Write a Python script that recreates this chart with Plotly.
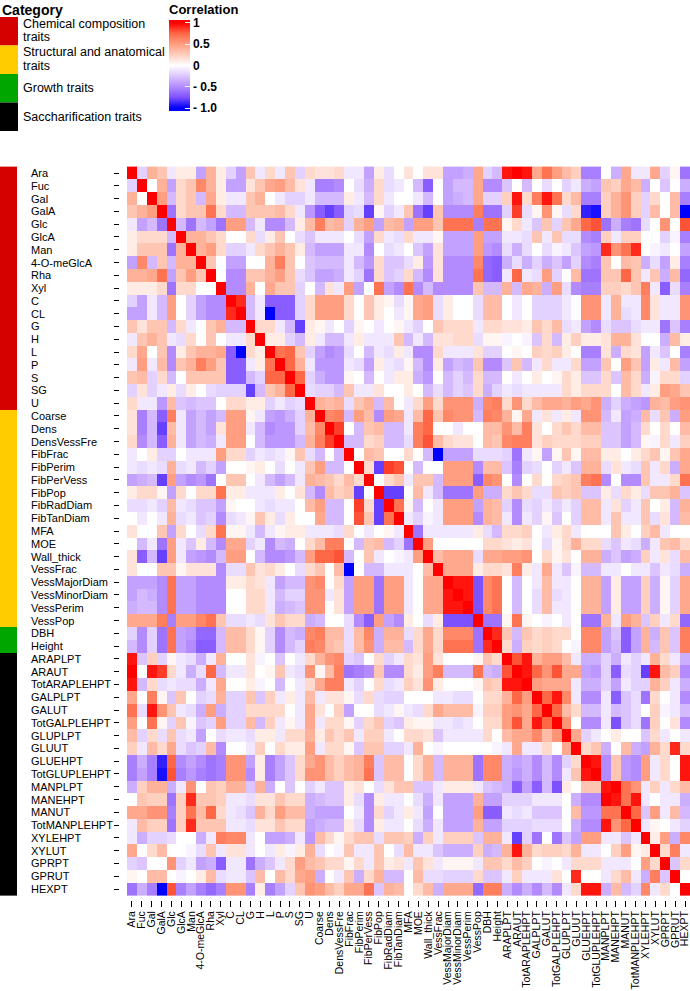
import plotly.graph_objects as go

W, H = 690, 991

# traits, grouped by category (rows top->bottom, columns left->right)
chem_traits = ["Ara", "Fuc", "Gal", "GalA", "Glc", "GlcA", "Man", "4-O-meGlcA", "Rha", "Xyl",
               "C", "CL", "G", "H", "L", "P", "S", "SG", "U"]
struct_traits = ["Coarse", "Dens", "DensVessFre", "FibFrac", "FibPerim", "FibPerVess", "FibPop",
                 "FibRadDiam", "FibTanDiam", "MFA", "MOE", "Wall_thick", "VessFrac",
                 "VessMajorDiam", "VessMinorDiam", "VessPerim", "VessPop"]
growth_traits = ["DBH", "Height"]
sacch_traits = ["ARAPLPT", "ARAUT", "TotARAPLEHPT", "GALPLPT", "GALUT", "TotGALPLEHPT",
                "GLUPLPT", "GLUUT", "GLUEHPT", "TotGLUPLEHPT", "MANPLPT", "MANEHPT", "MANUT",
                "TotMANPLEHPT", "XYLEHPT", "XYLUT", "GPRPT", "GPRUT", "HEXPT"]

categories = [["Chemical composition", "traits"], ["Structural and anatomical", "traits"],
              ["Growth traits"], ["Saccharification traits"]]
category_colors = ["#D50000", "#FFCC00", "#00A600", "#000000"]

# correlation x 10, lower triangle as drawn (row i holds columns 0..i-1)
lower_chem = [
    [],
    [-2],
    [4, 0],
    [3, 4, 5],
    [-1, -4, -3, -6],
    [1, 2, 2, 2, -3],
    [1, 3, 3, 3, -6, 4],
    [-4, 6, -3, 3, -3, 4, 4],
    [4, 4, 4.5, 7, -4, 3, 5, 3],
    [1, 1, 1, 2, -6, 2, 2, 0, 0],
    [-2, -4, -1, -3, 5, 0, -2, -4, -5, -5],
    [-4, -4, -1, -3, 5, 0, -2, -4, -5, -5, 9],
    [3, 1.5, 3, 3, -3, 2, -1, 0, 3, 4, -3, -3],
    [-1, 3, 4, 3, -1, -1.5, 2, 0, 3, 0, -1, -1, 2],
    [2, 4.5, 0, 3, -5, 1, 3, 4, 4, 4.5, -7, -10, 2, 1],
    [-1, 5, -1, 3.5, -5, 3, 4, 6.5, 5, 3, -7, -7, -1, 1, 7],
    [3, 3.5, -2, 2, -3, 0, 3, 3, 3, 3, -7, -7, -3, -2, 7.5, 7.5],
    [-2, 1.5, -2, -1, 1, -1.5, 1, 0, -1.5, -2, -2, -2, -8, -3, 3, 4, 7.5],
    [2, -1, -1, -4.5, 3.5, -2.5, -3, -2.5, -2.5, 0, 2, 2, 1, 1, -2, -1, -2, -1.5],
]
lower_struct = [
    [1.5, -5.5, -3, -7, 6.5, -1, -4, -3, -4, -3, 5, 5, 0.5, -1, -4, -4.5, -3.5, -2, 4],
    [1.5, -5.5, -3, -8, 3.5, -1, -4, -3, -4, 1.5, 5, 5, -1, -3, -5, -4.5, -4.5, -2, 3.5,
     6],
    [2, -5, -3, -7, 4, -1, -4, -3, -3.5, -1, 5, 5, 0, -3, -4.5, -4.5, -4.5, -3, 4,
     6.5, 8.5],
    [-1, 0, 1, -2, -2, 0, -1, -1, -1, 5, 2, 2, -2, -1, -1.5, -1, 0.5, 3, -1.5,
     -3, 0, -3],
    [-1, -1.5, -1, -1.5, 4, -1.5, -1, -3, -2, -4, 0, 0, 0.5, 1, 0, -1.5, 0, -1, 3,
     5, -3, -3, 0],
    [-4, -3.5, -3, -8, 5, -4, -5, -4.5, -6, 0, 3, 3, 0, -1, -3, -4, -3, -1, 4,
     3.5, 3, 2, 3.5, 2],
    [1, 2, 2, 0.5, -4, 2, 0, 2, 2, 7, 1, 1, -1, -1, -1, 1, 0, 1.5, -3,
     -5, 3.5, 2.5, 3, -8, 0],
    [-1.5, -1.5, -1, -2, 3.5, -1, -1.5, -2.5, -2.5, -4, 0.5, 0, 0, -1, -1.5, -1, -1, 0, 3.5,
     5, -3, -3, 0, 8.5, 2, -8],
    [0, -1, 0, -1, 4, -1.5, -1, -2.5, -2, -5, -1.5, -1, 0.5, 3, 1, -1.5, 1, 0, 0,
     4.5, -3, -3, 0, 8, 3, -8, 7],
    [1.5, 0, 0, 3, -4, 2, 0, -1.5, 2, 7, 0.5, 0.5, -1, -3, -1, 0.5, 1, 1, -1,
     -1, -1, -1.5, 2, 0, -1, 0, 0.5, -1],
    [0, -3, -1, -6, 5, -1, -2.5, 1, -3, -5, 4.5, 4.5, -2, -1, -5, -3, -3.5, 0, 2,
     3.5, 6.5, 6.5, 0, -3, 3, 3.5, -3, -2, -6],
    [1.5, -7, -3, -8, 5, -1, -4, -4.5, -5, -3, 5, 5, 0, -3, -5, -5, -4.5, -3, 5,
     7.5, 7.5, 8, -3, 0, 3, -1, 0, -0.5, -1, 5],
    [1.5, 0, 0, 3, 3, 0.5, 1.5, 1.5, 1.5, -5, -1.5, -1.5, 3, 1.5, 2, 1, 0, -1.5, 2,
     3, 0, 3.5, -10, 0, -3, -3, -1, -1, -1, 0, 3.5],
    [-4, -4, -4, -5, 7, -4, -4, -5, -5, -5, 1, 1, 2, 1.5, -1, -4, -3, -3, 5.5,
     6, 0, 2, -4, 5, 5, -6, 5, 5, -1, 0, 4.5, 4.5],
    [-4, -3, -3.5, -5, 7, -4, -4, -5, -5, -5, 0, 0, 2, 2, -1, -3, -2, -2, 5.5,
     5.5, -1, 1.5, -4, 5, 5, -6, 5, 5, -1, 0, 4.5, 4.5, 9.5],
    [-3.5, -3, -3, -5, 7, -4, -4, -5, -5, -5, 0, 0, 2, 2, -1, -3.5, -3, -2.5, 5.5,
     5.5, 0, 1.5, -4, 5, 5, -6, 5, 5, -1, 0, 4.5, 4.5, 9.5, 9.5],
    [4.5, 4.5, 4.5, 6.5, -5.5, 5, 5, 6, 7, 3, -1.5, -1.5, -1, -1.5, 1.5, 3, 2, 2, -3.5,
     -3, 0, 0, -1.5, -5, -7, 5, -4, -5, 1, 0, -1.5, 1, -7.5, -7.5, -7.5],
]
lower_growth = [
    [-2, -5, -2, -6, 7, -4, -4.5, -6.5, -6.5, -3, 3.5, 3.5, 2, 0.5, -2, -5, -3, -3.5, 6,
     6.5, 3.5, 3.5, -1.5, 3.5, 6, -3.5, 4, 4, -1.5, 2, 4.5, 2, 6, 6, 6, -6],
    [-3, -5, -2, -6, 7, -4, -5, -7, -7, -3, 3.5, 3.5, 2, 0.5, -2, -5, -3, -2, 6.5,
     6, 3.5, 3, -1.5, 3.5, 5.5, -3.5, 3.5, 3.5, -3, 2, 4.5, 2, 7, 7, 7, -6, 9],
]
lower_sacch = [
    [9.5, -2.5, 2.5, -2, 0.5, -1, -1.5, -3.5, -1, 4, 0, 0, 1.5, -0.5, 0, -2.5, 0, -1, 2,
     4, 5.5, 6, -2, -2.5, 0, 2, -2, -1, 2, 1.5, 5, 1.5, 0, 0, 0, 0.5, 3, 2],
    [10, 0, 9.5, 8.5, 2, -1, -3.5, -1.5, 7.5, -3, -1, -1, 1.5, 0, 0.5, 3, -1, -1.5, 5.5,
     0.5, 3.5, 6.5, -6, -5.5, -5, 3, -5, -5, 2, 1, 5, 6.5, -3, -3, -3, 7, -3, -3.5,
     8],
    [9.5, -3, 2, -1.5, -1, -1.5, -1.5, -3.5, -1, 4.5, 0, 0, 1, -0.5, 0, -3, 0, -1, 2,
     4.5, 6.5, 6.5, -1, -2, 0, 2, -1.5, -1, 2.5, 1.5, 5.5, 1, 0, 0, 0, 0.5, 3, 2.5,
     9.5, 9.5],
    [4.5, 0, 6.5, 0.5, -2.5, 3, 0, -2, -1.5, 4, -2, -2, 3, -2.5, 2.5, -1, 1, -1, 3.5,
     -1, 1.5, 1.5, 0.5, -1.5, 2, -1.5, -2, -2, 0, 0, 0, -1, -1, -1.5, -1.5, 0, 2, 2,
     4, 7.5, 5],
    [7, -1.5, 9.5, 5.5, 3, -1, -1.5, -3.5, 5, -3.5, -2, -2, 2, 2, 2, 2, 0, -1, 4.5,
     1.5, 0, 2.5, -4, 0, 0, -1.5, -1, 0.5, -1, -1.5, 2, 4.5, 3.5, 3.5, 3.5, -0.5, 2.5, 2.5,
     5, 5.5, 4.5, 7.5],
    [5, 0, 7, 0.5, -2, 3, -0.5, -2.5, -2, 5, -2, -2, 3.5, -3, 2.5, -1, 0.5, -1, 4.5,
     -1, 2, 2, 0.5, -2, 2, 3, -2, -2.5, 1, 0.5, 0.5, -1, -1, -1.5, -1, 0, 2, 2,
     5, 8, 4.5, 9.5, 7.5],
    [3.5, -2, 2, -1.5, 3, -1.5, -1, -4, 0, -1.5, -1, -1, -1.5, 1, 1, -1, 2, 2, 4,
     1, 3, 2, 3, -1, 2.5, 2.5, -1, 0, 2, 2, 1.5, -2.5, -1, -1, -1, -1, 2, 0,
     3.5, 4.5, 4.5, 6, 3.5, 5.5],
    [2.5, -1, 3.5, 2, 4.5, -1.5, -2.5, -2, 3.5, -5, 0, 0, -1, 2.5, 0, 2, 1, 1, 5,
     -1, 2, 2, 0.5, -2.5, 3, 3, -2, -2, -1, 4, 0, -0.5, 0, 0, 0, 0, 0, -0.5,
     -1, 4.5, -1, -1, 2, 0, 4.5],
    [-5.5, -3.5, -5.5, -9, 7.5, -5, -4, -5, -6, -5.5, 5.5, 5.5, -4, 1, -5.5, -4, -2.5, 2, 4.5,
     5.5, 3.5, 2.5, 3.5, 4, 6.5, -2.5, 3.5, 3.5, 0, 2, 4, -3, 4, 4, 4, -6, 6, 6,
     -3.5, -4, -3.5, -5, -3, -5, -2, 2],
    [-5.5, -4, -5.5, -9.5, 8, -5.5, -4.5, -5.5, -6, -5.5, 5.5, 5.5, -5, 1, -5.5, -4, -2.5, 2, 5.5,
     5.5, 3.5, 2.5, 3.5, 4, 7, -2.5, 3.5, 3.5, 0, 2, 4, -3, 4, 4, 4, -6, 6, 6,
     -3.5, -4.5, -3.5, -5, -3, -5, -1, 3, 9.5],
    [-3.5, 2.5, 4, 4, -3.5, -1, 5.5, 0, 3, 2.5, 4, 4, -2.5, 4, -3.5, 0, -2.5, 0, -2,
     -1, -2.5, -2.5, 1, 1.5, 0, -1.5, 1.5, 3, 3, -2.5, -2.5, -1, 1, 1, 1, -1, -2.5, -3,
     -3.5, -7, -4, -7, -3, -7.5, 1, 0, 3, 3],
    [0, 3, 2.5, 2.5, -6, 2.5, 9, 3, 3, 2.5, -1, -1, -1.5, 1.5, 1.5, 3, 2, 2, -3.5,
     -3, -2.5, -2.5, 1, -1.5, -5, 1, -1, -1, 0, -1.5, -3.5, -1, -4, -4, -4, 4, -4, -4,
     -2, -2, -2, -1, -1, -1, 0, -3.5, -5, -5, 9.5],
    [4.5, 4.5, 5.5, 5.5, -5.5, 2.5, 7, 3.5, 7.5, 2, -1, -1.5, -2.5, 4, 2, 5, 3.5, 3.5, -3.5,
     -4, -4, -4, 0, -1, -5, 2, -2, -1, 1, -1, -4, 0, -4, -4, -4, 5, -7, -7,
     -1, -1.5, -1, -2.5, -2.5, -2.5, 0, 3.5, -4.5, -4.5, 7, 7],
    [-1, 3.5, 2.5, 2.5, -6, 2.5, 9, 3, 3, 3, -1, -1, -1.5, 1.5, 1.5, 3, 2, 2, -4,
     -3.5, -3, -3, 1, -1.5, -5, 1, -1, -1, 0, -1.5, -3.5, -1, -4, -4, -4, 4, -4, -4,
     -2, -2, -2, -1.5, -1.5, -1.5, 0, -3.5, -5, -5, 9.5, 5.5, 7.5],
    [-1, -3.5, -2, -2, -1.5, 0, 0, -3.5, -1, 6.5, 6, 6, -1, 0, -4, -4, -3.5, -1, -4.5,
     3.5, 2, 0.5, 2, 3, 3, -1.5, 3, 3, 2.5, -3.5, 2.5, -1, 2.5, 2.5, 2.5, -2.5, 4, 4,
     -1, -8, -2, -6, 0, -6, -2.5, -4, 5, 5, -1, -1, -2.5, -1],
    [4.5, 0, 2, 3.5, 0, 0, -0.5, -1.5, 3, -1, 1.5, 1.5, -1, 0, -1, 1, -0.5, 1, 4,
     -1.5, 0, -0.5, 3, -1, -1, 3, 0, -1.5, 3.5, -1, -1, -2.5, -3.5, -3.5, -3.5, 2.5, -3.5, -3,
     4, 9.5, 4, 2, 2.5, 2.5, 2, 4, -1, -1, 0, 2.5, 5, 0.5, 1],
    [-2, -2.5, 0, 0, 5.5, -2, -1, -4, -3.5, -7, -1, -1, -6, -3.5, -2.5, -1, 2, 5, 3.5,
     3, 2, 2, 0.5, 2, -1, 3, 1, 1.5, -1, 3, 1.5, -1, 0.5, 0.5, 0.5, -1, 3, 3,
     2, 3.5, 2.5, 0, -0.5, 0, -1, 2, 2, 2, -1, -1, -1, 0, 5, 2],
    [0.5, 0, 3.5, 3.5, 0, -0.5, 0, 1, 3.5, -1.5, -1, -1, -2.5, 3.5, 0, 3.5, 2, 4.5, 5,
     -3.5, 0, -1, 3, -3.5, 2, 4, -3, -3, 0, 3.5, -1.5, -1.5, -2, -2, -2, 2, -2.5, -2.5,
     -1, 2.5, -1, -1, -1, 1.5, 0, 9, 0, 0, -1, 2, 3.5, -1, -3.5, 6.5, -2.5],
    [-6, -3.5, -5.5, -10, 8, -5.5, -4, -5.5, -6.5, -5.5, 5.5, 5.5, -5.5, 1, -5.5, -4, -2, 3, 5.5,
     5, 3.5, 2.5, 4.5, 4.5, 7, -2.5, 4, 3.5, 0, 2, 3.5, -3.5, 4.5, 4.5, 4.5, -6.5, 6.5, 6.5,
     -3.5, -5, -3.5, -5, -3, -5, -1, 2, 9.5, 9.5, -3.5, 3.5, -3, -2, 6, -1, 2, 0],
]

traits = chem_traits + struct_traits + growth_traits + sacch_traits
trait_cat = ([0] * len(chem_traits) + [1] * len(struct_traits)
             + [2] * len(growth_traits) + [3] * len(sacch_traits))
lower = lower_chem + lower_struct + lower_growth + lower_sacch
n = len(traits)

# in the published figure the MANPLPT / MANEHPT data columns are drawn in swapped order
col_source = list(range(n))
i_pl, i_eh = traits.index("MANPLPT"), traits.index("MANEHPT")
col_source[i_pl], col_source[i_eh] = i_eh, i_pl

R = [[0.0] * n for _ in range(n)]
for i, row in enumerate(lower):
    R[i][i] = 1.0
    for j, v in enumerate(row):
        jj = col_source[j] if i > i_eh else j
        R[i][jj] = v / 10
        R[jj][i] = v / 10
z = [[R[i][col_source[j]] for j in range(n)] for i in range(n)]

# blue - white - red, interpolated in Lab like ComplexHeatmap's colorRamp2
ZL = 1.07  # the legend bar runs slightly past +-1
color_stops = [(-1.0, "rgb(0,0,255)"), (-0.75, "rgb(126,81,255)"), (-0.5, "rgb(179,139,255)"),
               (-0.25, "rgb(220,197,255)"), (0.0, "rgb(255,255,255)"),
               (0.25, "rgb(255,207,191)"), (0.5, "rgb(255,158,129)"),
               (0.75, "rgb(255,104,70)"), (1.0, "rgb(255,0,0)")]
corr_scale = ([[0.0, color_stops[0][1]]]
              + [[(v + ZL) / (2 * ZL), c] for v, c in color_stops]
              + [[1.0, color_stops[-1][1]]])

cat_scale = []
for k, c in enumerate(category_colors):
    cat_scale.append([k / 4, c])
    cat_scale.append([(k + 1) / 4, c])

FONT = "Liberation Sans, Arial, sans-serif"
px = lambda v: v / W
py = lambda v: 1 - v / H

fig = go.Figure()
fig.add_trace(go.Heatmap(
    x=traits, y=traits, z=z,
    zmin=-ZL, zmax=ZL,
    colorscale=corr_scale,
    colorbar=dict(
        x=px(169), xanchor="left", y=py(20), yanchor="top",
        len=91, lenmode="pixels", thickness=21, thicknessmode="pixels",
        xpad=0, ypad=0, outlinewidth=0,
        tickvals=[-1, -0.5, 0, 0.5, 1],
        ticktext=["- 1.0", "- 0.5", "0", "0.5", "1"],
        ticks="inside", ticklen=5, tickcolor="white", tickwidth=1,
        tickfont=dict(family=FONT, size=12, color="black", weight="bold"),
    ),
    hovertemplate="%{y} / %{x}: %{z:.2f}<extra></extra>",
))

# category strip on the left
fig.add_trace(go.Heatmap(
    x=["cat"], y=traits, z=[[c] for c in trait_cat],
    zmin=0, zmax=3, colorscale=cat_scale, showscale=False,
    xaxis="x2", yaxis="y", hoverinfo="skip",
))

annotations = [
    dict(text="<b>Category</b>", x=0, y=1, xref="paper", yref="paper",
         xanchor="left", yanchor="top", showarrow=False,
         font=dict(family=FONT, size=14, color="black")),
    dict(text="<b>Correlation</b>", x=px(167), y=1, xref="paper", yref="paper",
         xanchor="left", yanchor="top", showarrow=False,
         font=dict(family=FONT, size=13, color="black")),
]
shapes = []
block_h = 28.5
for k, (lines, col) in enumerate(zip(categories, category_colors)):
    top = 17 + block_h * k
    shapes.append(dict(type="rect", xref="paper", yref="paper",
                       x0=0, x1=px(18), y0=py(top + block_h), y1=py(top),
                       fillcolor=col, line=dict(width=0)))
    mid = top + block_h / 2
    offsets = [0] if len(lines) == 1 else [-7.5, 6]
    for line, off in zip(lines, offsets):
        annotations.append(dict(text=line, x=px(21), y=py(mid + off),
                                xref="paper", yref="paper", xanchor="left",
                                yanchor="middle", showarrow=False,
                                font=dict(family=FONT, size=12.5, color="black")))

# left-aligned row names
for t in traits:
    annotations.append(dict(text=t, x=px(29), y=t, xref="paper", yref="y",
                            xanchor="left", yanchor="middle", showarrow=False,
                            font=dict(family=FONT, size=11, color="black")))

fig.update_layout(
    width=W, height=H,
    margin=dict(l=0, r=0, t=0, b=0),
    paper_bgcolor="white", plot_bgcolor="white",
    font=dict(family=FONT, color="black"),
    xaxis=dict(domain=[px(127), 1], anchor="free", position=py(900),
               tickmode="array", tickvals=traits, ticktext=traits,
               tickangle=-90, ticks="outside", ticklen=6, tickcolor="black",
               tickfont=dict(family=FONT, size=10.5, color="black"),
               showgrid=False, zeroline=False, showline=False, automargin=False),
    xaxis2=dict(domain=[0, px(17)], anchor="y", showticklabels=False, ticks="",
                showgrid=False, zeroline=False, showline=False),
    yaxis=dict(domain=[py(897), py(165)], autorange="reversed",
               anchor="free", position=px(119),
               tickmode="array", tickvals=traits,
               showticklabels=False, ticks="outside", ticklen=5, tickcolor="black",
               showgrid=False, zeroline=False, showline=False, automargin=False),
    shapes=shapes,
    annotations=annotations,
)

fig.write_html(
    "out.html",
    config={"displayModeBar": False},
    post_script="document.body.style.margin='0';"
                "document.documentElement.style.overflow='hidden';",
)
